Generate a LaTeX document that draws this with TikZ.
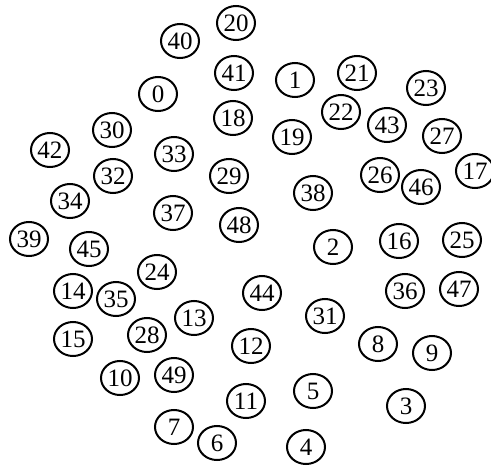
\documentclass[tikz,border=0pt]{standalone}
\usepackage{fontspec}
\setmainfont{Liberation Serif}
\usepackage{tikz}
\usetikzlibrary{shapes.geometric}

\begin{document}
\begin{tikzpicture}[x=1pt,y=-1pt,
    vertex/.style={ellipse,draw,line width=2pt,minimum width=38pt,minimum height=34pt,
      inner sep=0pt,font=\fontsize{25}{26}\selectfont}]
  \useasboundingbox (0,0) rectangle (491,466);
  % scattered vertices, positions in pixels of the original
  \foreach \n/\x/\y in {
      0/158/94, 1/295/80, 2/333/247, 3/406/406, 4/306/447,
      5/313/391, 6/217/443, 7/174/427, 8/378/344, 9/432/353,
      10/120/378, 11/246/401, 12/251/346, 13/194/318, 14/73/291,
      15/73/339, 16/399/241, 17/475/171, 18/233/118, 19/292/137,
      20/236/23, 21/357/73, 22/341/112, 23/426/88, 24/157/272,
      25/462/240, 26/380/175, 27/442/136, 28/147/335, 29/229/176,
      30/112/130, 31/325/316, 32/113/176, 33/174/154, 34/70/201,
      35/116/299, 36/405/291, 37/173/213, 38/313/193, 39/29/239,
      40/180/41, 41/234/73, 42/50/150, 43/387/125, 44/262/293,
      45/89/249, 46/421/187, 47/459/289, 48/239/225, 49/174/375} {
    \node[vertex] (n\n) at (\x,\y) {\n};
  }
\end{tikzpicture}
\end{document}
